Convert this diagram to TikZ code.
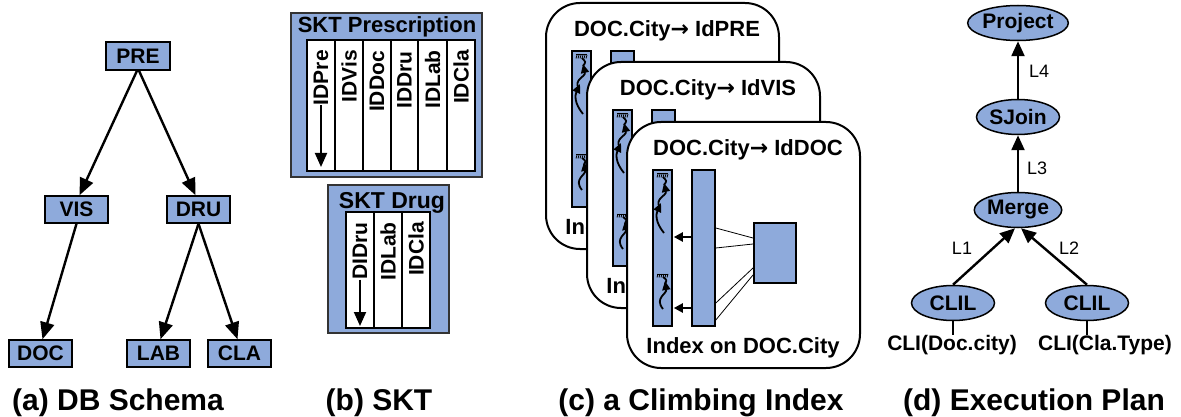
\documentclass[tikz,border=0pt]{standalone}
\usepackage{fontspec}
\setmainfont{Liberation Sans}
\newfontfamily\arrowfont{DejaVu Sans}
\usetikzlibrary{arrows.meta,shapes.geometric,calc}
\definecolor{boxblue}{RGB}{142,170,219}
\tikzset{
  txt/.style={inner sep=0pt, font=\fontsize{21}{24}\selectfont\bfseries},
  ctxt/.style={inner sep=0pt, font=\fontsize{22}{24}\selectfont\bfseries},
  tbox/.style={txt, draw=black, line width=1.5pt, fill=boxblue, minimum width=63pt, minimum height=27pt},
  tarr/.style={line width=2.4pt, -{Triangle[length=17pt,width=14pt]}},
  skto/.style={draw=black!80, line width=2pt, fill=boxblue},
  sktcol/.style={draw=black, line width=1.4pt, fill=white},
  coltxt/.style={txt, rotate=90, anchor=east},
  colarr/.style={line width=1.9pt, -{Triangle[length=14pt,width=12pt]}},
  card/.style={draw=black, line width=2pt, fill=white, rounded corners=34pt},
  bar/.style={draw=black, line width=1.8pt, fill=boxblue, inner sep=0pt, anchor=north west},
  barr/.style={line width=2.2pt, -{Triangle[length=9pt,width=9pt]}},
  thinl/.style={line width=0.8pt},
  squig/.style={line width=1.8pt, -{Triangle[length=9pt,width=8pt]}},
  squigplain/.style={line width=1.8pt},
  ell/.style={txt, ellipse, draw=black, line width=1.5pt, fill=boxblue, minimum width=83pt, minimum height=35pt},
  parr/.style={line width=2.4pt, -{Triangle[length=15pt,width=13pt]}},
  lab/.style={inner sep=0pt, font=\fontsize{18}{20}\selectfont},
  captxt/.style={inner sep=0pt, font=\fontsize{30}{32}\selectfont\bfseries, anchor=base},
}
\newcommand\mycomb[2]{%
  \draw[line width=1pt] (#1,#2) -- ++(11,0);
  \foreach \t in {1,3,5,7,9,11} {\draw[line width=0.8pt] (#1+\t,#2) -- ++(-1,3.5);}
}
\newcommand\climbcard[4]{%
\begin{scope}[shift={(#1,#2)}]
  \draw[card] (0,0) rectangle (233,246);
  \node[ctxt] (title#4) at (121,28) {DOC.City{\arrowfont →} #3};
  \node[bar, minimum width=19pt, minimum height=156pt] (lb#4) at (25,47) {};
  \node[bar, minimum width=23pt, minimum height=156pt] (rb#4) at (64,47) {};
  \node[bar, minimum width=42pt, minimum height=60pt] (sq#4) at (126,100) {};
  \draw[barr] ($(rb#4.north west)+(0,68)$) -- ($(lb#4.north east)+(1,68)$);
  \draw[barr] ($(rb#4.north west)+(0,139)$) -- ($(lb#4.north east)+(1,139)$);
  \draw[thinl] ($(rb#4.north east)+(0,59)$) -- ($(sq#4.north west)+(0,16)$);
  \draw[thinl] ($(rb#4.north east)+(0,79)$) -- ($(sq#4.north west)+(0,22)$);
  \draw[thinl] ($(rb#4.north east)+(0,134)$) -- ($(sq#4.north west)+(0,46)$);
  \draw[thinl] ($(rb#4.north east)+(0,151)$) -- ($(sq#4.north west)+(0,53)$);
  \mycomb{30}{52}
  \draw[squig] (37,111) .. controls (28,100) and (29,92) .. (34,81);
  \draw[squig] (33,86) .. controls (27,76) and (40,74) .. (37,61);
  \draw[squigplain] (37,63) .. controls (40,59) .. (36,55);
  \mycomb{30}{152}
  \draw[squig] (36,187) .. controls (27,176) and (40,172) .. (38,159);
  \draw[squigplain] (38,162) .. controls (40,158) .. (36,155);
  \node[ctxt] (idx#4) at (116,226) {Index on DOC.City};
\end{scope}}
\begin{document}
\begin{tikzpicture}[x=1pt,y=-1pt]
\useasboundingbox (0,0) rectangle (1181,417);
% (a) DB schema
\node[tbox, minimum width=64pt, minimum height=28pt] (pre) at (138,56) {PRE};
\node[tbox] (vis) at (76.5,209.5) {VIS};
\node[tbox] (dru) at (198.5,209.5) {DRU};
\node[tbox] (doc) at (40.5,353.5) {DOC};
\node[tbox] (lab) at (158.5,353.5) {LAB};
\node[tbox] (cla) at (239.5,353.5) {CLA};
\draw[tarr] ([xshift=-1pt]pre.south) -- ([xshift=3pt]vis.north);
\draw[tarr] ([xshift=1pt]pre.south) -- ([xshift=-3pt]dru.north);
\draw[tarr] (vis.south) -- ([xshift=2pt]doc.north);
\draw[tarr] (dru.south) -- ([xshift=2pt]lab.north);
\draw[tarr] (dru.south) -- ([xshift=-2pt]cla.north);
% (b) SKT
\draw[skto] (291,13) rectangle (482,177);
\node[txt, font=\fontsize{22}{24}\selectfont\bfseries, anchor=base] (sktptitle) at (387,33) {SKT Prescription};
\draw[sktcol] (307,40) rectangle (475,171);
\foreach \xx in {335,363,391,418,447} {\draw[line width=1.4pt] (\xx,40) -- (\xx,171);}
\node[coltxt] (idpre) at (321,50) {IDPre};
\node[coltxt] (idvis) at (349,50) {IDVis};
\node[coltxt] (iddoc) at (377,51) {IDDoc};
\node[coltxt] (iddru) at (404.5,51) {IDDru};
\node[coltxt] (idlab) at (432.5,50) {IDLab};
\node[coltxt] (idcla) at (461,50) {IDCla};
\coordinate (idpreend) at (321,167);
\draw[colarr] (idpre.west) -- (idpreend);
\draw[skto] (328,185) rectangle (449,333);
\node[txt, font=\fontsize{23}{24}\selectfont\bfseries, anchor=base] (sktdtitle) at (392,208) {SKT Drug};
\draw[sktcol] (346,212) rectangle (430,328);
\foreach \xx in {374,402} {\draw[line width=1.4pt] (\xx,212) -- (\xx,328);}
\node[coltxt] (didru) at (360,222) {DIDru};
\node[coltxt] (dlab) at (388,222) {IDLab};
\node[coltxt] (dcla) at (416,222) {IDCla};
\coordinate (didruend) at (360,326);
\draw[colarr] (didru.west) -- (didruend);
% (c) climbing index
\climbcard{546}{3}{IdPRE}{a}
\climbcard{587}{62}{IdVIS}{b}
\climbcard{627}{122}{IdDOC}{c}
% (d) execution plan
\node[ell] (proj) at (1018,23) {Project};
\node[ell] (sjoin) at (1018,117) {SJoin};
\node[ell] (merge) at (1018,210) {Merge};
\node[ell] (clil1) at (953,303) {CLIL};
\node[ell] (clil2) at (1087,303) {CLIL};
\node[txt, anchor=base] (cli1) at (952,350) {CLI(Doc.city)};
\node[txt, anchor=base] (cli2) at (1105,350) {CLI(Cla.Type)};
\draw[parr] (sjoin) -- (proj);
\draw[parr] (merge) -- (sjoin);
\draw[parr] (clil1.north) -- ([xshift=-3pt]merge.south);
\draw[parr] (clil2.north) -- ([xshift=3pt]merge.south);
\draw[line width=1.5pt] (clil1.south) -- (clil1.south |- cli1.north);
\draw[line width=1.5pt] (clil2.south) -- (clil2.south |- cli2.north);
\node[lab, anchor=west] (l4) at (1029,71) {L4};
\node[lab, anchor=west] (l3) at (1027,168) {L3};
\node[lab] (l1) at (962,248) {L1};
\node[lab] (l2) at (1069,248) {L2};
% captions
\node[captxt] (capa) at (118,410) {(a) DB Schema};
\node[captxt] (capb) at (379,410) {(b) SKT};
\node[captxt] (capc) at (701,410) {(c) a Climbing Index};
\node[captxt] (capd) at (1034,410) {(d) Execution Plan};
\end{tikzpicture}
\end{document}
